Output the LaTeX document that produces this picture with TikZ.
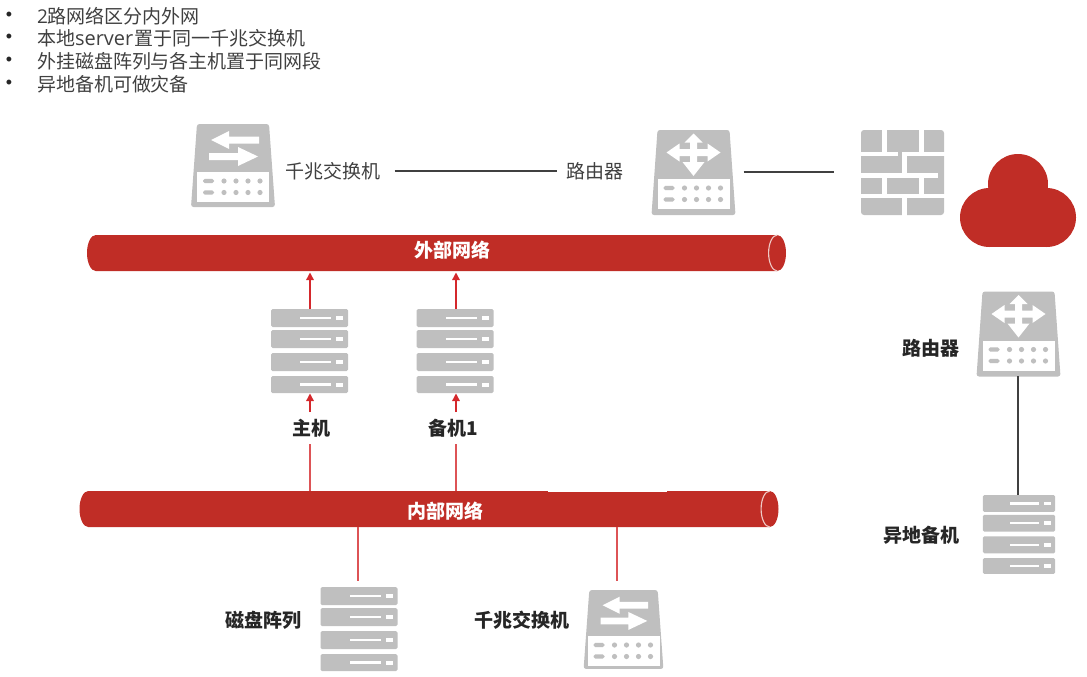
\documentclass[tikz,border=0pt]{standalone}
\usepackage{fontspec}
\setmainfont{Noto Sans CJK SC}
\newfontfamily\bulletfont{Liberation Sans}
\newfontfamily\latinfont{Open Sans}
\usetikzlibrary{arrows.meta}
\definecolor{icongray}{HTML}{BFBFBF}
\definecolor{pipered}{HTML}{C02D26}
\definecolor{linkred}{HTML}{D4282C}
\definecolor{paleedge}{HTML}{EFC9C5}
\definecolor{txt}{HTML}{404040}
\tikzset{
  x=1pt,y=-1pt,
  every node/.style={inner sep=0pt,outer sep=0pt,font=\fontsize{19pt}{22pt}\selectfont,text=txt},
  bulletmark/.style={anchor=center,font=\bulletfont\fontsize{18pt}{20pt}\selectfont,text=black!85},
  boldlabel/.style={font=\fontsize{19pt}{22pt}\selectfont\bfseries,text=black!85},
  whitelabel/.style={font=\fontsize{19pt}{22pt}\selectfont\bfseries,text=white},
  iconbox/.style={minimum width=#1,minimum height=84pt},
  linklabel/.style={boldlabel,minimum height=32pt},
  pipebox/.style={minimum width=699pt,minimum height=36pt},
  redarrow/.style={draw=linkred,line width=1.4pt,-{Triangle[width=7.5pt,length=7.5pt]}},
  redlink/.style={draw=linkred!80,line width=1.4pt},
  darklink/.style={draw=black!75,line width=1.4pt},
  panel/.pic={
    \fill[white] (-36,6.5) rectangle (36,36.5);
    \foreach \yy in {15.5,27}{
      \fill[icongray,rounded corners=1.8pt] (-30,\yy-2.2) rectangle (-19,\yy+2.2);
      \foreach \xx in {-9,3,15,27} \fill[icongray] (\xx,\yy) circle[radius=2.6];
    }
  },
  pics/switchicon/.style={code={
    \fill[icongray,rounded corners=2.5pt] (-36,-41.5) -- (36,-41.5) -- (42,41.5) -- (-42,41.5) -- cycle;
    \pic {panel};
    \fill[white] (-22,-25.5) -- (-4,-34.5) -- (-4,-29) -- (26,-29) -- (26,-22) -- (-4,-22) -- (-4,-16.5) -- cycle;
    \fill[white] (25,-9) -- (5,-18.5) -- (5,-12.5) -- (-24,-12.5) -- (-24,-5.5) -- (5,-5.5) -- (5,0.5) -- cycle;
  }},
  pics/routericon/.style={code={
    \fill[icongray,rounded corners=2.5pt] (-36,-42.5) -- (36,-42.5) -- (42,42.5) -- (-42,42.5) -- cycle;
    \pic {panel};
    \fill[white] (0,-39) -- (9,-30) -- (3.5,-30) -- (3.5,-23.5) -- (14,-23.5) -- (14,-29) -- (27,-20) -- (14,-11) -- (14,-16.5) -- (3.5,-16.5) -- (3.5,-10.5) -- (11,-10.5) -- (0,3.5) -- (-11,-10.5) -- (-3.5,-10.5) -- (-3.5,-16.5) -- (-14,-16.5) -- (-14,-11) -- (-27,-20) -- (-14,-29) -- (-14,-23.5) -- (-3.5,-23.5) -- (-3.5,-30) -- (-9,-30) -- cycle;
  }},
  pics/servericon/.style={code={
    \foreach \ya/\yb in {-42/-24,-21/-3,2/20,25/42}{
      \fill[icongray,rounded corners=1.5pt] (-38.5,\ya) rectangle (38.5,\yb);
      \fill[white] (-9.5,{(\ya+\yb)/2-1.2}) rectangle (21.5,{(\ya+\yb)/2+1.2});
      \fill[white] (26.5,{(\ya+\yb)/2-2}) rectangle (33.5,{(\ya+\yb)/2+2});
    }
  }},
  pics/firewallicon/.style={code={
    \fill[icongray,rounded corners=3pt] (0,0) rectangle (83,85);
    \fill[white] (21,-1) rectangle (25.7,21.5);
    \fill[white] (58.3,-1) rectangle (63,21.5);
    \fill[white] (-1,21.5) rectangle (37.3,26);
    \fill[white] (41.3,21.5) rectangle (84,26);
    \fill[white] (41.3,26) rectangle (46.3,42.5);
    \fill[white] (-1,42.5) rectangle (77.3,47.5);
    \fill[white] (21,47.5) rectangle (25.7,63.7);
    \fill[white] (58.3,47.5) rectangle (63,63.7);
    \fill[white] (-1,63.7) rectangle (84,68.3);
    \fill[white] (41.3,68.3) rectangle (46.3,86);
  }},
  pics/cloudicon/.style={code={
    \fill[pipered] (0,-33.5) circle[radius=30];
    \fill[pipered] (-28.5,0) circle[radius=29.5];
    \fill[pipered] (28.5,0) circle[radius=29.5];
    \fill[pipered] (-28.5,-10) rectangle (28.5,29.5);
    \fill[pipered] (-30,-29.5) rectangle (30,0);
  }},
  pics/pipeshape/.style={code={
    \fill[pipered] (-340.8,-18) -- (340.8,-18) arc[start angle=90,end angle=-90,x radius=8.7,y radius=-18] -- (-340.8,18) arc[start angle=270,end angle=90,x radius=8.7,y radius=-18] -- cycle;
    \draw[paleedge,line width=1.1pt] (340.8,-18) arc[start angle=90,end angle=270,x radius=8.7,y radius=-18];
  }},
}
\begin{document}
\begin{tikzpicture}
\useasboundingbox (0,0) rectangle (1087,677);

% bullets
\node[bulletmark] (b1) at (9,16) {•};
\node[bulletmark] (b2) at (9,38) {•};
\node[bulletmark] (b3) at (9,61) {•};
\node[bulletmark] (b4) at (9,84) {•};
\node[anchor=west] (t1) at (37,16) {{\latinfont 2}路网络区分内外网};
\node[anchor=west] (t2) at (37,38) {本地{\latinfont\fontsize{20pt}{22pt}\selectfont server}\hspace{1pt}置于同一千兆交换机};
\node[anchor=west] (t3) at (37,61) {外挂磁盘阵列与各主机置于同网段};
\node[anchor=west] (t4) at (37,84) {异地备机可做灾备};

% pipes
\pic at (436.5,253) {pipeshape};
\node[pipebox] (extnet) at (436.5,253) {};
\node[whitelabel] (extlabel) at (452,250) {外部网络};
\pic at (429,509) {pipeshape};
\node[pipebox] (intnet) at (429,509) {};
\node[whitelabel] (intlabel) at (445,511) {内部网络};
\fill[white] (548,487) rectangle (667,492.3);

% top row
\pic at (233,165.5) {switchicon};
\node[iconbox=84pt] (sw1) at (233,165.5) {};
\node (sw1label) at (333,171) {千兆交换机};
\node (rlabel) at (594.5,171) {路由器};
\pic at (693.5,172.5) {routericon};
\node[iconbox=84pt] (r1) at (693.5,172) {};
\pic at (861,130) {firewallicon};
\node[minimum width=83pt,minimum height=85pt] (fw) at (902.5,172) {};
\pic at (1018,217.5) {cloudicon};
\node[minimum width=116pt,minimum height=93pt] (cloud) at (1018,200.5) {};

\draw[darklink,shorten <=14pt,shorten >=9pt] (sw1label.east) -- (rlabel.west);
\draw[darklink,shorten <=8pt,shorten >=27pt] (r1.east) -- (fw.west);

% servers
\pic at (309.5,351) {servericon};
\node[iconbox=77pt] (host) at (310,351) {};
\pic at (455,351) {servericon};
\node[iconbox=77pt] (bak) at (456,351) {};
\node[linklabel] (hostlabel) at (311,428) {主机};
\node[linklabel] (baklabel) at (453,428) {备机1};

\draw[redarrow,shorten >=1.5pt] (host.north) -- (host.north |- extnet.south);
\draw[redarrow,shorten >=1.5pt] (bak.north) -- (bak.north |- extnet.south);
\draw[redarrow,shorten >=0.5pt] (hostlabel.north -| host) -- (host.south);
\draw[redarrow,shorten >=0.5pt] (baklabel.north -| bak) -- (bak.south);
\draw[redlink] (intnet.north -| host) -- (hostlabel.south -| host);
\draw[redlink] (intnet.north -| bak) -- (baklabel.south -| bak);

% lower row
\pic at (359,629) {servericon};
\node[iconbox=77pt] (disk) at (359,629) {};
\node[boldlabel] (disklabel) at (263,620) {磁盘阵列};
\pic[scale=.95] at (623.5,629.5) {switchicon};
\node[iconbox=80pt,minimum height=79pt] (sw2) at (623.5,629.5) {};
\node[boldlabel] (sw2label) at (522,620) {千兆交换机};
\coordinate (diskend) at (358,581);
\coordinate (sw2end) at (617,581);
\draw[redlink] (intnet.south -| diskend) -- (diskend);
\draw[redlink] (intnet.south -| sw2end) -- (sw2end);

% remote site
\pic at (1018.5,334) {routericon};
\node[iconbox=84pt] (r2) at (1018,334) {};
\node[boldlabel] (r2label) at (931,348) {路由器};
\pic[scale=.94] at (1019,534.5) {servericon};
\node[iconbox=72pt,minimum height=79pt] (remote) at (1018,534.5) {};
\node[boldlabel] (remotelabel) at (921,535) {异地备机};
\draw[darklink] (r2.south) -- (remote.north);
\end{tikzpicture}
\end{document}
